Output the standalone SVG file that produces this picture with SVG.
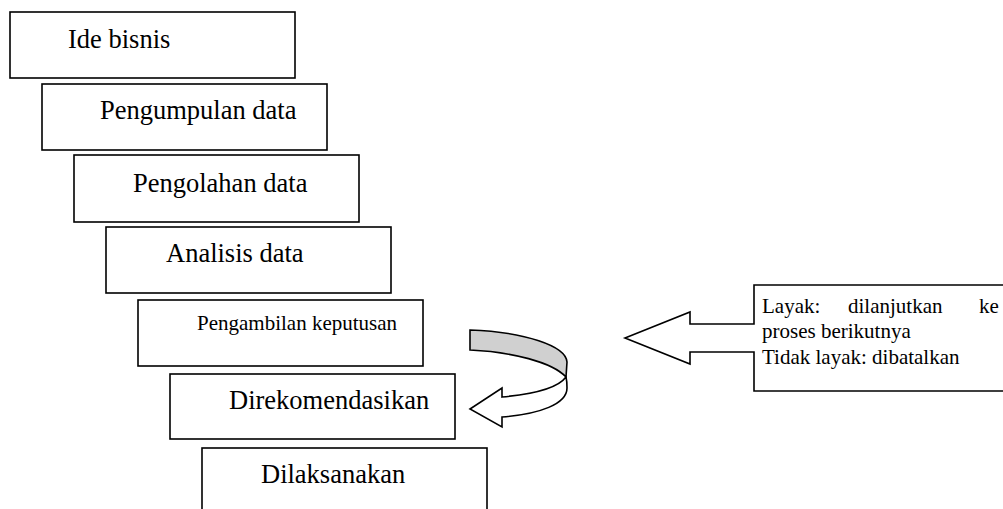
<svg xmlns="http://www.w3.org/2000/svg" width="1003" height="509" viewBox="0 0 1003 509">
  <style>
    .box { fill: #ffffff; stroke: #000000; stroke-width: 1.6; }
    .lbl { font-family: "Liberation Serif", "Times New Roman", serif; font-size: 26.5px; fill: #000000; }
    .sm { font-family: "Liberation Serif", "Times New Roman", serif; font-size: 21px; fill: #000000; }
    .shape { stroke: #000000; stroke-width: 1.6; stroke-linejoin: miter; }
  </style>
  <rect width="1003" height="509" fill="#ffffff"/>
  <g id="node-ide-bisnis">
    <rect class="box" x="10" y="12" width="285" height="66"/>
    <text class="lbl" x="68" y="48">Ide bisnis</text>
  </g>
  <g id="node-pengumpulan-data">
    <rect class="box" x="42" y="84" width="285" height="66"/>
    <text class="lbl" x="100" y="119">Pengumpulan data</text>
  </g>
  <g id="node-pengolahan-data">
    <rect class="box" x="74" y="155" width="285" height="67"/>
    <text class="lbl" x="133" y="192">Pengolahan data</text>
  </g>
  <g id="node-analisis-data">
    <rect class="box" x="106" y="227" width="285" height="66"/>
    <text class="lbl" x="166" y="262">Analisis data</text>
  </g>
  <g id="node-pengambilan-keputusan">
    <rect class="box" x="138" y="300" width="285" height="66"/>
    <text class="sm" x="197" y="330">Pengambilan keputusan</text>
  </g>
  <g id="node-direkomendasikan">
    <rect class="box" x="170" y="374" width="285" height="65"/>
    <text class="lbl" x="229" y="409">Direkomendasikan</text>
  </g>
  <g id="node-dilaksanakan">
    <rect class="box" x="202" y="448" width="285" height="75"/>
    <text class="lbl" x="261" y="483">Dilaksanakan</text>
  </g>
  <g id="node-keputusan-callout">
    <path class="shape" fill="#ffffff" d="M1012,285 L754,285 L754,324 L690,324 L690,312 L625,338 L690,364 L690,352 L754,352 L754,391 L1012,391"/>
    <text class="sm" y="313"><tspan x="762">Layak:</tspan><tspan x="848">dilanjutkan</tspan><tspan x="979">ke</tspan></text>
    <text class="sm" x="762" y="338">proses berikutnya</text>
    <text class="sm" x="762" y="364">Tidak layak: dibatalkan</text>
  </g>
  <g id="connectors">
    <path class="shape" fill="#ffffff" d="M566,377 C567,381 567,384 567,388 C567,404 540,414 502,417 L502,427 L470,409 L502,388 L502,397 C535,394 558,388 566,377 Z"/>
    <path class="shape" fill="#d0d0d0" d="M470,330 C525,332 566,346 567,362 L566,377 C552,362 512,352 470,350 Z"/>
  </g>
</svg>
